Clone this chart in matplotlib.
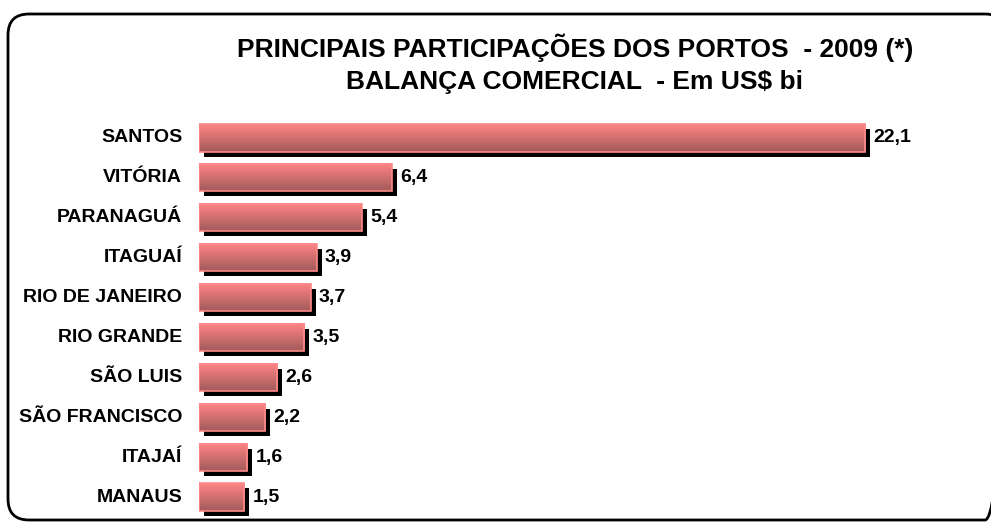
import numpy as np
import matplotlib
matplotlib.use("Agg")
import matplotlib.pyplot as plt
from matplotlib.patches import FancyBboxPatch, Rectangle
from matplotlib.colors import LinearSegmentedColormap
import matplotlib.transforms as mtransforms

# dados do grafico
portos = ["SANTOS", "VITÓRIA", "PARANAGUÁ", "ITAGUAÍ", "RIO DE JANEIRO",
          "RIO GRANDE", "SÃO LUIS", "SÃO FRANCISCO", "ITAJAÍ", "MANAUS"]
valores = [22.1, 6.4, 5.4, 3.9, 3.7, 3.5, 2.6, 2.2, 1.6, 1.5]
titulo = "PRINCIPAIS PARTICIPAÇÕES DOS PORTOS  - 2009 (*)\nBALANÇA COMERCIAL  - Em US$ bi"

plt.rcParams['font.family'] = ['Liberation Sans', 'DejaVu Sans']

W, H = 991, 522
fig = plt.figure(figsize=(W / 100, H / 100), dpi=100)

# moldura arredondada (em pixels)
fundo = fig.add_axes([0, 0, 1, 1])
fundo.set_xlim(0, W)
fundo.set_ylim(H, 0)
fundo.axis("off")
fundo.add_patch(FancyBboxPatch((8, 14), 998, 506,
                               boxstyle="round,pad=0,rounding_size=21",
                               fill=False, edgecolor="black", linewidth=2))

ax = fig.add_axes([199 / W, 5 / H, (960 - 199) / W, (404 - 5) / H])

cmap = LinearSegmentedColormap.from_list("rosa", ["#a35a5a", "#ff8484"])
grad = np.linspace(0, 1, 64).reshape(-1, 1)
alt = 0.68

# sombra deslocada
sombra = ax.transData + mtransforms.ScaledTranslation(5 / 100, -5 / 100, fig.dpi_scale_trans)

for i, (p, v) in enumerate(zip(portos, valores)):
    ax.add_patch(Rectangle((0, i - alt / 2), v, alt, facecolor="black",
                           edgecolor="none", transform=sombra, zorder=1))
    ax.imshow(grad, cmap=cmap, aspect="auto", origin="lower",
              extent=[0, v, i + alt / 2, i - alt / 2], zorder=2)
    ax.add_patch(Rectangle((0, i - alt / 2), v, alt, facecolor="none",
                           edgecolor="#ff8a8a", linewidth=1.2, zorder=3))
    ax.annotate(f"{v:.1f}".replace(".", ","), (v, i), xytext=(6, 0),
                textcoords="offset points", va="center", ha="left",
                fontsize=14, fontweight="bold")
    ax.annotate(p, (0, i), xytext=(-12, 0), textcoords="offset points",
                va="center", ha="right", fontsize=14, fontweight="bold")

ax.set_xlim(0, (960 - 199) / 30.14)
ax.set_ylim(len(portos) - 0.5, -0.5)
ax.axis("off")

fig.text(575 / W, 1 - 64 / H, titulo, ha="center", va="center",
         fontsize=19, fontweight="bold", linespacing=1.4)

fig.savefig("out.png", dpi=100)
